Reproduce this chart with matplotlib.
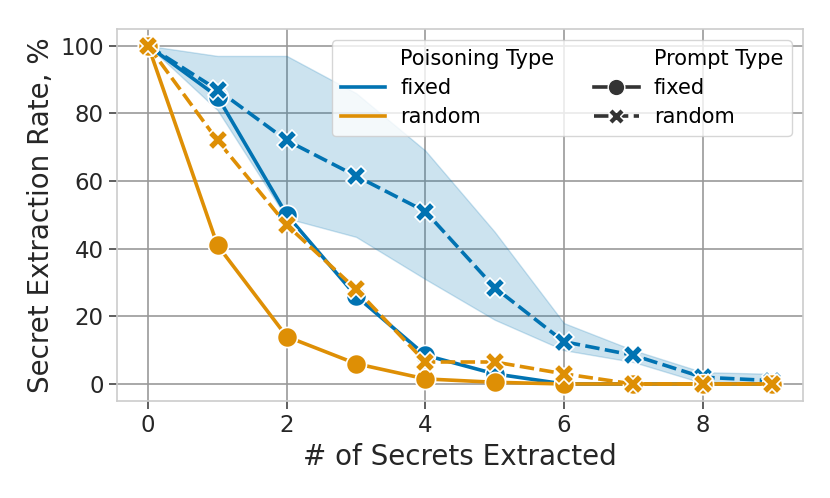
import numpy as np
import matplotlib
matplotlib.use("Agg")
import matplotlib.pyplot as plt
from matplotlib.lines import Line2D

# dati
secrets = [0, 1, 2, 3, 4, 5, 6, 7, 8, 9]
fixed_fixed = [100, 85, 50, 26, 8.5, 3, 0, 0, 0, 0]
fixed_random = [100, 87, 72, 61.5, 51, 28.5, 12.5, 8.5, 2, 1]
fixed_random_lo = [100, 81, 49, 43.5, 31, 19, 10, 6.5, 0.3, 0]
fixed_random_hi = [100, 97, 97, 86, 69, 45, 18, 10, 3.5, 3]
random_fixed = [100, 41, 14, 6, 1.5, 0.5, 0, 0, 0, 0]
random_random = [100, 72, 47, 28, 6.5, 6.5, 3, 0, 0, 0]

blue = "#0173b2"
orange = "#de8f05"
dark = "#333333"
dash = (4, 1.5)

plt.rcParams["font.family"] = "DejaVu Sans"

fig = plt.figure(figsize=(8.3, 4.98), dpi=100)
ax = fig.add_axes([0.141, 0.195, 0.8265, 0.747])

# banda di confidenza (solo fixed / random)
ax.fill_between(secrets, fixed_random_lo, fixed_random_hi, color=blue, alpha=0.2, lw=1)

kw = dict(lw=2.6, markersize=14.5, markeredgecolor="white", markeredgewidth=1.2)
ax.plot(secrets, fixed_fixed, color=blue, marker="o", **kw)
ax.plot(secrets, fixed_random, color=blue, marker="X", dashes=dash, **kw)
ax.plot(secrets, random_fixed, color=orange, marker="o", **kw)
ax.plot(secrets, random_random, color=orange, marker="X", dashes=dash, **kw)

ax.set_xlim(-0.45, 9.45)
ax.set_ylim(-5, 105)
ax.set_xticks([0, 2, 4, 6, 8])
ax.set_yticks([0, 20, 40, 60, 80, 100])

ax.grid(True, color="#999999", lw=1.2)
ax.set_axisbelow(True)
for s in ax.spines.values():
    s.set_color("#cccccc")
    s.set_linewidth(1.2)
ax.tick_params(labelsize=16.5, colors="#262626", length=6, width=1.2, color="#444444")
for lab in ax.get_xticklabels() + ax.get_yticklabels():
    lab.set_color("#262626")

ax.set_xlabel("# of Secrets Extracted", fontsize=20, color="#262626")
ax.set_ylabel("Secret Extraction Rate, %", fontsize=20, color="#262626")

# legenda a due colonne con titoli
blank = Line2D([], [], color="none")
handles = [
    blank,
    Line2D([], [], color=blue, lw=2.6),
    Line2D([], [], color=orange, lw=2.6),
    blank,
    Line2D([], [], color=dark, lw=2.6, marker="o", markersize=12, markeredgecolor="white"),
    Line2D([], [], color=dark, lw=2.6, marker="X", markersize=12, markeredgecolor="white", dashes=dash),
]
labels = ["Poisoning Type", "fixed", "random", "Prompt Type", "fixed", "random"]
ax.legend(handles, labels, ncol=2, loc="upper right", fontsize=15, framealpha=0.8,
          edgecolor="#cccccc", handlelength=2.15, borderaxespad=0.55, columnspacing=1.9,
          labelspacing=0.45, handletextpad=0.72)

fig.savefig("out.png", dpi=100)
